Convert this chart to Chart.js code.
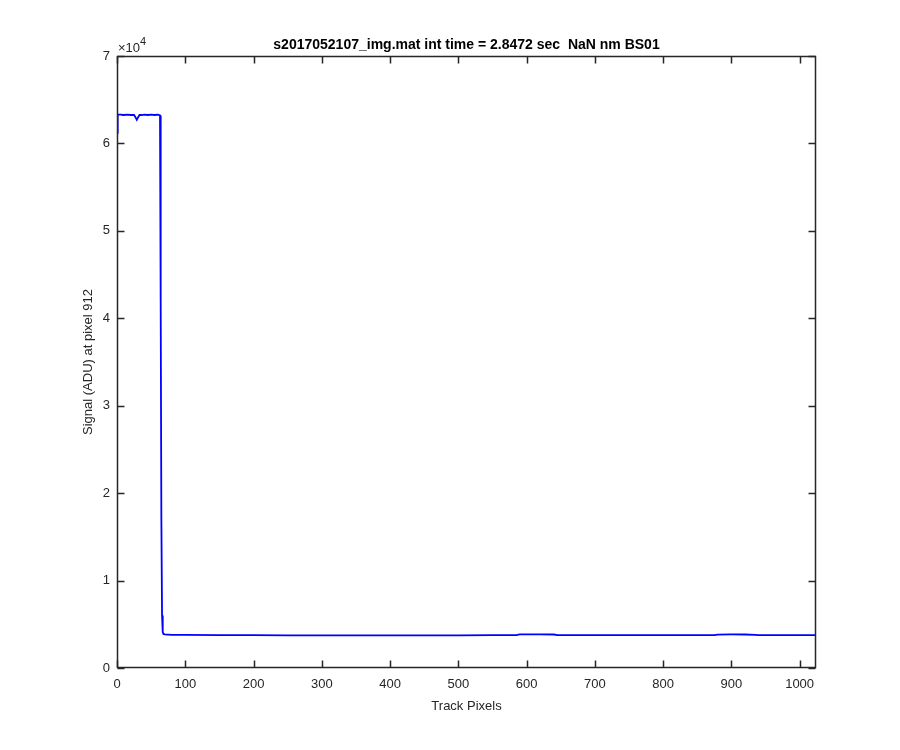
<!DOCTYPE html>
<html>
<head>
<meta charset="utf-8">
<script src="https://cdn.jsdelivr.net/npm/chart.js@4.4.1/dist/chart.umd.min.js"></script>
<style>
  html, body { margin: 0; padding: 0; background: #ffffff; }
  #wrap { width: 900px; height: 750px; position: relative; }
</style>
</head>
<body>
<div id="wrap"><canvas id="c" width="900" height="750"></canvas></div>
<script>
// ---- data ----
const trackPixels = [0, 1, 5, 10, 15, 20, 25, 27, 29, 31, 33, 36, 40, 45, 50, 55, 60, 63, 64, 65, 66, 67, 68, 70, 80, 100, 150, 200, 250, 300, 350, 400, 450, 500, 550, 585, 590, 600, 620, 640, 645, 650, 700, 750, 800, 850, 875, 880, 900, 920, 935, 940, 1000, 1024];
const signalADU = [61200, 63300, 63300, 63250, 63300, 63250, 63250, 63000, 62700, 63000, 63250, 63250, 63300, 63250, 63300, 63250, 63300, 63200, 42000, 17000, 6000, 4100, 3900, 3850, 3800, 3780, 3760, 3750, 3740, 3740, 3740, 3740, 3740, 3740, 3750, 3760, 3840, 3850, 3850, 3830, 3760, 3750, 3750, 3770, 3770, 3760, 3760, 3820, 3840, 3830, 3800, 3750, 3750, 3750];
const xTickValues = [0, 100, 200, 300, 400, 500, 600, 700, 800, 900, 1000];
const yTickValues = [0, 10000, 20000, 30000, 40000, 50000, 60000, 70000];
const titleText = 's2017052107_img.mat int time = 2.8472 sec  NaN nm BS01';
const xLabel = 'Track Pixels';
const yLabel = 'Signal (ADU) at pixel 912';

const axisColor = '#262626';
const FONT = '"Liberation Sans", Arial, sans-serif';

const points = trackPixels.map((x, i) => ({ x: x, y: signalADU[i] }));

const frame = {
  id: 'frame',
  afterDraw(chart) {
    const ctx = chart.ctx;
    const a = chart.chartArea;
    const xs = chart.scales.x, ys = chart.scales.y;
    ctx.save();
    ctx.strokeStyle = axisColor;
    ctx.lineWidth = 1.5;
    const L = Math.round(a.left) + 0.5, R = Math.round(a.right) - 0.5;
    const T = Math.round(a.top) + 0.5, B = Math.round(a.bottom) - 0.5;
    ctx.strokeRect(L, T, R - L, B - T);
    const tl = 7;
    ctx.beginPath();
    xTickValues.forEach(v => {
      const px = Math.round(xs.getPixelForValue(v)) + 0.5;
      ctx.moveTo(px, B); ctx.lineTo(px, B - tl);
      ctx.moveTo(px, T); ctx.lineTo(px, T + tl);
    });
    yTickValues.forEach(v => {
      const py = Math.round(ys.getPixelForValue(v)) + 0.5;
      ctx.moveTo(L, py); ctx.lineTo(L + tl, py);
      ctx.moveTo(R, py); ctx.lineTo(R - tl, py);
    });
    ctx.stroke();

    ctx.fillStyle = '#000000';
    ctx.font = 'bold 14px ' + FONT;
    ctx.textAlign = 'center';
    ctx.textBaseline = 'alphabetic';
    ctx.fillText(titleText, (a.left + a.right) / 2, 49);

    ctx.fillStyle = axisColor;
    ctx.font = '13px ' + FONT;
    ctx.textAlign = 'left';
    ctx.fillText('\u00d710', a.left + 1, 52);
    const w = ctx.measureText('\u00d710').width;
    ctx.font = '11px ' + FONT;
    ctx.fillText('4', a.left + 1 + w, 45);

    ctx.font = '13px ' + FONT;
    ctx.textAlign = 'center';
    ctx.fillText(xLabel, (a.left + a.right) / 2, 710);

    ctx.save();
    ctx.translate(92, (a.top + a.bottom) / 2);
    ctx.rotate(-Math.PI / 2);
    ctx.textAlign = 'center';
    ctx.textBaseline = 'alphabetic';
    ctx.fillText(yLabel, 0, 0);
    ctx.restore();
    ctx.restore();
  }
};

new Chart(document.getElementById('c'), {
  type: 'line',
  data: {
    datasets: [{
      data: points,
      borderColor: '#0000ff',
      borderWidth: 1.8,
      pointRadius: 0,
      tension: 0,
      fill: false
    }]
  },
  options: {
    responsive: false,
    animation: false,
    events: [],
    layout: { padding: { left: 0, top: 56, right: 84, bottom: 0 } },
    plugins: { legend: { display: false }, title: { display: false }, tooltip: { enabled: false } },
    scales: {
      x: {
        type: 'linear',
        min: 0, max: 1024,
        afterBuildTicks: s => { s.ticks = xTickValues.map(v => ({ value: v })); },
        afterFit: s => { s.height = 82; },
        grid: { display: false, drawTicks: false },
        border: { display: false },
        ticks: { color: axisColor, font: { family: FONT, size: 13 }, padding: 9, maxRotation: 0, autoSkip: false, callback: v => String(v) }
      },
      y: {
        type: 'linear',
        min: 0, max: 70000,
        afterBuildTicks: s => { s.ticks = yTickValues.map(v => ({ value: v })); },
        afterFit: s => { s.width = 117; },
        grid: { display: false, drawTicks: false },
        border: { display: false },
        ticks: { color: axisColor, font: { family: FONT, size: 13 }, padding: 7, autoSkip: false, callback: v => String(v / 10000) }
      }
    }
  },
  plugins: [frame]
});
</script>
</body>
</html>
